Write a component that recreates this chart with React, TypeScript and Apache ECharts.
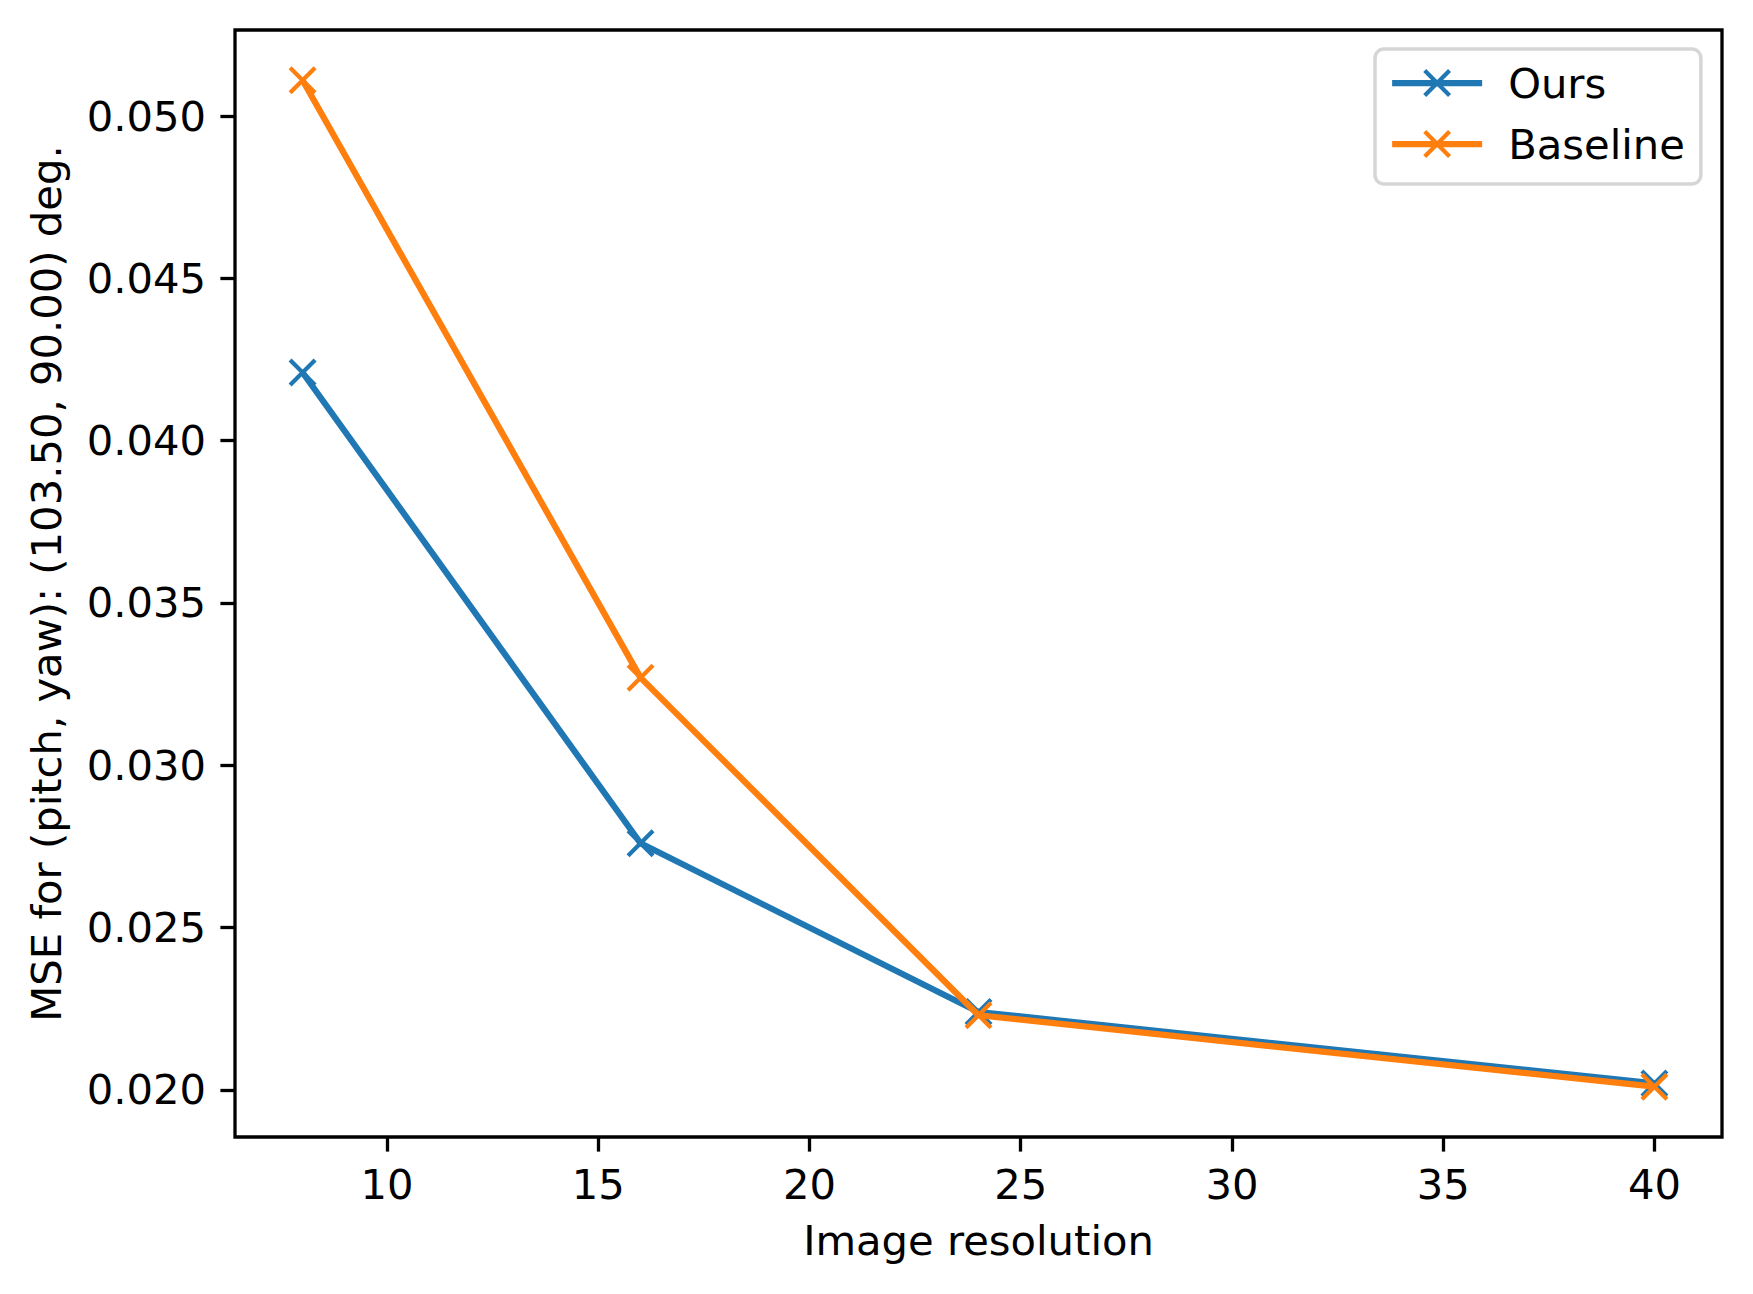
import React, { useEffect, useRef } from "react";
import * as echarts from "echarts";

const resolutions = [8, 16, 24, 40];
const oursValues = [0.0421, 0.0276, 0.0224, 0.0202];
const baselineValues = [0.0511, 0.0327, 0.0223, 0.0201];
const xTicks = [10, 15, 20, 25, 30, 35, 40];
const yTicks = [0.02, 0.025, 0.03, 0.035, 0.04, 0.045, 0.05];
const seriesNames = ["Ours", "Baseline"];
const seriesColors = ["#1f77b4", "#ff7f0e"];

const FONT = "DejaVu Sans";
const FS = 41.7;
const LW = 3.3;

export default function App() {
  const ref = useRef<HTMLDivElement>(null);
  useEffect(() => {
    if (!ref.current) return;
    const chart = echarts.init(ref.current, undefined, { renderer: "svg" });
    const xSpan = resolutions[resolutions.length - 1] - resolutions[0];
    const allY = [...oursValues, ...baselineValues];
    const yMinD = Math.min(...allY);
    const yMaxD = Math.max(...allY);
    const ySpan = yMaxD - yMinD;
    const xMin = resolutions[0] - 0.05 * xSpan;
    const xMax = resolutions[resolutions.length - 1] + 0.05 * xSpan;
    const yMin = yMinD - 0.05 * ySpan;
    const yMax = yMaxD + 0.05 * ySpan;
    const xSymbol = "path://M0,0L10,10M10,0L0,10";
    const data = [oursValues, baselineValues];
    chart.setOption({
      animation: false,
      backgroundColor: "#ffffff",
      textStyle: { fontFamily: FONT },
      grid: {
        left: 235,
        top: 30,
        width: 1487,
        height: 1107,
        show: true,
        borderColor: "#000",
        borderWidth: LW,
        backgroundColor: "transparent",
      },
      legend: {
        show: true,
        data: seriesNames,
        orient: "vertical",
        left: 1375,
        top: 49,
        padding: [13, 16, 19, 14],
        itemGap: 19,
        itemWidth: 90,
        itemHeight: 31,
        backgroundColor: "#fff",
        borderColor: "#d6d6d6",
        borderWidth: 3.5,
        borderRadius: 9,
        lineStyle: { width: 6.25 },
        itemStyle: { borderWidth: 4.2 },
        textStyle: {
          fontFamily: FONT,
          fontSize: FS,
          color: "#000",
          padding: [0, 0, 0, 21],
        },
      },
      xAxis: {
        type: "value",
        min: xMin,
        max: xMax,
        name: "Image resolution",
        nameLocation: "middle",
        nameGap: 82,
        nameTextStyle: { fontFamily: FONT, fontSize: FS, color: "#000" },
        axisLine: { show: false },
        axisTick: {
          show: true,
          length: 14.6,
          inside: false,
          customValues: xTicks,
          lineStyle: { color: "#000", width: LW },
        },
        axisLabel: {
          show: true,
          customValues: xTicks,
          margin: 26,
          fontFamily: FONT,
          fontSize: FS,
          color: "#000",
          formatter: (v: number) => String(v),
        },
        splitLine: { show: false },
      },
      yAxis: {
        type: "value",
        min: yMin,
        max: yMax,
        name: "MSE for (pitch, yaw): (103.50, 90.00) deg.",
        nameLocation: "middle",
        nameGap: 168,
        nameTextStyle: { fontFamily: FONT, fontSize: FS, color: "#000" },
        axisLine: { show: false },
        axisTick: {
          show: true,
          length: 14.6,
          inside: false,
          customValues: yTicks,
          lineStyle: { color: "#000", width: LW },
        },
        axisLabel: {
          show: true,
          customValues: yTicks,
          margin: 29,
          fontFamily: FONT,
          fontSize: FS,
          color: "#000",
          formatter: (v: number) => v.toFixed(3),
        },
        splitLine: { show: false },
      },
      series: seriesNames.map((name, i) => ({
        name,
        type: "line",
        data: resolutions.map((x, j) => [x, data[i][j]]),
        symbol: xSymbol,
        symbolSize: 25,
        showSymbol: true,
        lineStyle: { color: seriesColors[i], width: 6.25 },
        itemStyle: {
          color: "rgba(0,0,0,0)",
          borderColor: seriesColors[i],
          borderWidth: 4.2,
        },
        emphasis: { disabled: true },
        z: 2 + i,
      })),
    });
    return () => chart.dispose();
  }, []);
  return (
    <div
      ref={ref}
      style={{ position: "absolute", left: 0, top: 0, width: 1753, height: 1294 }}
    />
  );
}
